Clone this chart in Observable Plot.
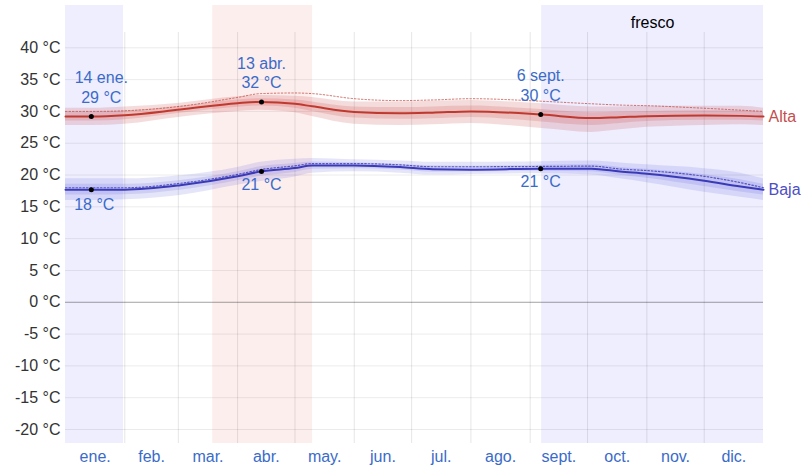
<!DOCTYPE html>
<html><head><meta charset="utf-8">
<script src="https://cdn.jsdelivr.net/npm/d3@7"></script>
<script src="https://cdn.jsdelivr.net/npm/@observablehq/plot@0.6"></script>
<style>body{margin:0;background:#fff}#chart{width:803px;height:470px}</style>
</head><body><div id="chart"></div>
<script>
// day of year sample points
const days   = [0, 14, 31, 60, 90, 102, 120, 129, 151, 175, 192, 212, 249, 275, 290, 304, 334, 353, 365];
// average daily high (Alta) and low (Baja), °C
const hi     = [29.2, 29.2, 29.4, 30.3, 31.3, 31.5, 31.2, 30.8, 29.9, 29.7, 29.8, 30.0, 29.5, 28.95, 29.1, 29.25, 29.35, 29.3, 29.2];
const hiFeel = [30.0, 30.0, 30.1, 30.8, 32.2, 32.8, 32.9, 32.8, 32.0, 31.7, 31.8, 32.0, 31.6, 31.2, 31.0, 30.9, 30.5, 30.2, 30.0];
const hiP90  = [30.5, 30.5, 30.7, 31.3, 32.3, 32.5, 32.4, 32.2, 31.5, 31.5, 31.6, 31.7, 31.2, 30.7, 30.7, 30.8, 30.8, 30.8, 30.5];
const hiP75  = [29.85, 29.85, 30.05, 30.8, 31.8, 32.0, 31.8, 31.5, 30.7, 30.6, 30.7, 30.85, 30.3, 29.8, 29.9, 30.0, 30.1, 30.1, 29.85];
const hiP25  = [28.5, 28.5, 28.7, 29.7, 30.65, 30.85, 30.5, 30.0, 28.95, 28.75, 28.85, 29.05, 28.35, 27.8, 28.1, 28.4, 28.6, 28.6, 28.5];
const hiP10  = [27.8, 27.8, 28.0, 29.1, 30.0, 30.2, 29.8, 29.2, 28.0, 27.8, 27.9, 28.1, 27.3, 26.7, 27.1, 27.5, 27.8, 27.9, 27.8];
const lo     = [17.7, 17.7, 17.7, 18.4, 19.8, 20.55, 21.1, 21.5, 21.5, 21.25, 20.9, 20.85, 21.0, 21.0, 20.55, 20.2, 19.1, 18.2, 17.7];
const loFeel = [18.0, 18.0, 18.0, 18.7, 20.1, 20.85, 21.45, 21.8, 21.8, 21.6, 21.3, 21.3, 21.35, 21.4, 20.95, 20.7, 19.8, 18.8, 18.0];
const loP90  = [19.4, 19.4, 19.4, 19.9, 21.2, 22.0, 22.5, 22.6, 22.4, 22.2, 22.0, 22.0, 22.1, 22.2, 21.9, 21.6, 21.0, 20.3, 19.4];
const loP75  = [18.55, 18.55, 18.55, 19.15, 20.5, 21.3, 21.8, 22.05, 21.95, 21.7, 21.45, 21.4, 21.55, 21.6, 21.2, 20.9, 20.05, 19.25, 18.55];
const loP25  = [16.85, 16.85, 16.9, 17.6, 19.1, 19.8, 20.4, 20.9, 21.0, 20.8, 20.45, 20.5, 20.6, 20.5, 19.95, 19.5, 18.2, 17.35, 16.85];
const loP10  = [16.0, 16.0, 16.1, 16.8, 18.4, 19.0, 19.7, 20.3, 20.5, 20.3, 20.0, 20.1, 20.2, 20.0, 19.4, 18.8, 17.3, 16.5, 16.0];

// seasons
const seasonStart = [0, 77, 249];
const seasonEnd   = [30.3, 129.2, 365];
const seasonKind  = ["fresco", "caliente", "fresco"];

// annotations
const annDay   = [13.5, 102.5, 248.5];
const annDate  = ["14 ene.", "13 abr.", "6 sept."];
const annHi    = [29.2, 31.5, 29.5];
const annLo    = [17.7, 20.55, 21.0];

// axes
const yTicks = [-20, -15, -10, -5, 0, 5, 10, 15, 20, 25, 30, 35, 40];
const monthStarts = [31, 59, 90, 120, 151, 181, 212, 243, 273, 304, 334];
const monthMid = [15.5, 45, 74.5, 105, 135.5, 166, 196.5, 227.5, 258, 288.5, 319, 349.5];
const monthLabels = ["ene.", "feb.", "mar.", "abr.", "may.", "jun.", "jul.", "ago.", "sept.", "oct.", "nov.", "dic."];

const rows = days.map((d, i) => ({day: d, hi: hi[i], hiFeel: hiFeel[i], hiP90: hiP90[i], hiP75: hiP75[i], hiP25: hiP25[i], hiP10: hiP10[i],
  lo: lo[i], loFeel: loFeel[i], loP90: loP90[i], loP75: loP75[i], loP25: loP25[i], loP10: loP10[i]}));
const seasons = seasonStart.map((s, i) => ({start: s, end: seasonEnd[i], kind: seasonKind[i]}));
const ann = annDay.map((d, i) => ({day: d, date: annDate[i], hi: annHi[i], lo: annLo[i]}));
const monthMap = new Map(monthMid.map((d, i) => [d, monthLabels[i]]));

const RED = "#c0392f", BLUE = "#3a3ab8", LBLUE = "#3a6bc9";
const font = "'Liberation Sans', Arial, sans-serif";
const Y0 = -22.2, Y1 = 46.65, GRIDTOP = 42.4;
const crv = "monotone-x";

const chart = Plot.plot({
  width: 803, height: 470,
  marginLeft: 65, marginRight: 40, marginTop: 5, marginBottom: 27,
  style: {fontFamily: font, fontSize: "16px", background: "#fff", overflow: "visible"},
  x: {domain: [0, 365], axis: null},
  y: {domain: [Y0, Y1], axis: null},
  marks: [
    Plot.rect(seasons, {x1: "start", x2: "end", fill: d => d.kind === "fresco" ? "#eeeeff" : "#fdeeee"}),
    Plot.ruleY(yTicks, {x1: 0, x2: 365, stroke: "#000", strokeOpacity: 0.08}),
    Plot.ruleX(monthStarts, {y1: Y0, y2: GRIDTOP, stroke: "#000", strokeOpacity: 0.1}),
    Plot.ruleY([0], {x1: 0, x2: 365, stroke: "#000", strokeOpacity: 0.3}),
    Plot.areaY(rows, {x: "day", y1: "hiP10", y2: "hiP90", fill: "#c83c3c", fillOpacity: 0.18, curve: crv}),
    Plot.areaY(rows, {x: "day", y1: "hiP25", y2: "hiP75", fill: "#c83c3c", fillOpacity: 0.18, curve: crv}),
    Plot.areaY(rows, {x: "day", y1: "loP10", y2: "loP90", fill: "#4646d2", fillOpacity: 0.14, curve: crv}),
    Plot.areaY(rows, {x: "day", y1: "loP25", y2: "loP75", fill: "#4646d2", fillOpacity: 0.14, curve: crv}),
    Plot.lineY(rows, {x: "day", y: "hiFeel", stroke: RED, strokeWidth: 1, strokeDasharray: "1.5,2", strokeOpacity: 0.7, curve: crv}),
    Plot.lineY(rows, {x: "day", y: "loFeel", stroke: BLUE, strokeWidth: 1.2, strokeDasharray: "1.5,2", strokeOpacity: 0.8, curve: crv}),
    Plot.lineY(rows, {x: "day", y: "hi", stroke: RED, strokeWidth: 2, curve: crv}),
    Plot.lineY(rows, {x: "day", y: "lo", stroke: BLUE, strokeWidth: 2, curve: crv}),
    Plot.dot(ann, {x: "day", y: "hi", r: 2.5, fill: "#000"}),
    Plot.dot(ann, {x: "day", y: "lo", r: 2.5, fill: "#000"}),
    Plot.text(ann, {x: "day", y: "hi", text: d => `${d.date}\n${Math.round(d.hi)} °C`, lineAnchor: "bottom", lineHeight: 1.2,
      dy: -14, fill: LBLUE, fontSize: 16, fontFamily: font, filter: d => d.day > 30}),
    Plot.text(ann, {x: "day", y: "hi", text: d => `${d.date}\n${Math.round(d.hi)} °C`, lineAnchor: "bottom", lineHeight: 1.2,
      dy: -14, dx: 10, fill: LBLUE, fontSize: 16, fontFamily: font, filter: d => d.day < 30}),
    Plot.text(ann, {x: "day", y: "lo", text: d => `${Math.round(d.lo)} °C`, lineAnchor: "top",
      dy: 7, fill: LBLUE, fontSize: 16, fontFamily: font, filter: d => d.day > 30}),
    Plot.text(ann, {x: "day", y: "lo", text: d => `${Math.round(d.lo)} °C`, lineAnchor: "top",
      dy: 9, dx: 3, fill: LBLUE, fontSize: 16, fontFamily: font, filter: d => d.day < 30}),
    Plot.text([rows[rows.length - 1]], {x: "day", y: "hi", text: () => "Alta", textAnchor: "start", dx: 5, fill: "#c44e4e", fontSize: 16, fontFamily: font}),
    Plot.text([rows[rows.length - 1]], {x: "day", y: "lo", text: () => "Baja", textAnchor: "start", dx: 5, fill: "#4e4ec4", fontSize: 16, fontFamily: font}),
    Plot.text(seasons.filter(d => d.kind === "fresco" && d.start > 100), {x: d => (d.start + d.end) / 2, text: "kind", frameAnchor: "top", dy: 11, fill: "#000", fontSize: 16, fontFamily: font}),
    Plot.axisY(yTicks, {tickSize: 0, tickPadding: 5, tickFormat: d => `${d} °C`, color: "#333", fontSize: 16, fontFamily: font}),
    Plot.axisX(monthMid, {tickSize: 0, tickPadding: 7, tickFormat: d => monthMap.get(d), color: LBLUE, fontSize: 16, fontFamily: font})
  ]
});
document.getElementById("chart").appendChild(chart);
</script>
</body></html>
